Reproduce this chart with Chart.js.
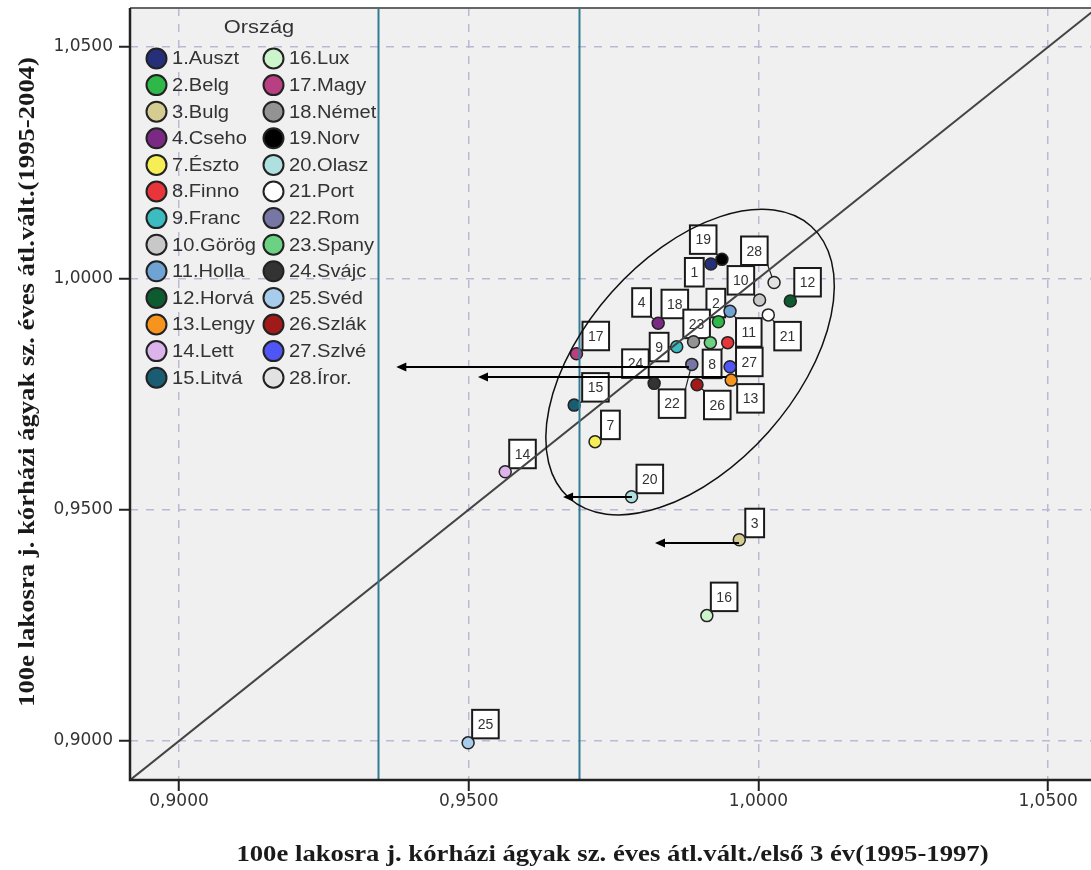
<!DOCTYPE html>
<html>
<head>
<meta charset="utf-8">
<script src="https://cdn.jsdelivr.net/npm/chart.js@4/dist/chart.umd.min.js"></script>
<style>
  html, body { margin: 0; padding: 0; background: #fff; }
  #wrap { width: 1091px; height: 870px; }
</style>
</head>
<body>
<div id="wrap"><canvas id="chart" width="1091" height="870"></canvas></div>
<script>
// ── data (legend order)
const countryIds = [1, 2, 3, 4, 7, 8, 9, 10, 11, 12, 13, 14, 15, 16, 17, 18, 19, 20, 21, 22, 23, 24, 25, 26, 27, 28];
const countryNames = ["Auszt", "Belg", "Bulg", "Cseho", "Észto", "Finno", "Franc", "Görög", "Holla", "Horvá", "Lengy", "Lett", "Litvá",
  "Lux", "Magy", "Német", "Norv", "Olasz", "Port", "Rom", "Spany", "Svájc", "Svéd", "Szlák", "Szlvé", "Íror."];
const xVals = [0.9918, 0.9931, 0.9967, 0.9827, 0.9718, 0.9947, 0.9859, 1.0002, 0.9951, 1.0055, 0.9953, 0.9563, 0.9682,
  0.9911, 0.9686, 0.9888, 0.9937, 0.9781, 1.0017, 0.9885, 0.9917, 0.9820, 0.9499, 0.9894, 0.9951, 1.0027];
const yVals = [1.0031, 0.9906, 0.9435, 0.9903, 0.9647, 0.9861, 0.9852, 0.9953, 0.9929, 0.9951, 0.9780, 0.9582, 0.9726,
  0.9271, 0.9837, 0.9863, 1.0041, 0.9528, 0.9921, 0.9814, 0.9861, 0.9773, 0.8996, 0.9770, 0.9809, 0.9991];
const pointColors = ["#26307a", "#2eb84a", "#d4cc90", "#7a2a82", "#f5ee55", "#e8353a", "#3cbcc0", "#c8c8c8", "#6fa3d4", "#0d5c30",
  "#f7941d", "#dcb3ea", "#1a5c72", "#ccf5cc", "#b83f82", "#939393", "#000000", "#aee0e0", "#ffffff", "#7777a6", "#6bd283",
  "#333333", "#a8ccec", "#a01a1a", "#5055f5", "#e2e2e2"];

// axes
const tickValues = [0.9, 0.95, 1.0, 1.05];
const xRange = [0.89154, 1.0574];
const yRange = [0.89157, 1.05843];
const xTitle = "100e lakosra j. kórházi ágyak sz. éves átl.vált./első 3 év(1995-1997)";
const yTitle = "100e lakosra j. kórházi ágyak sz. éves átl.vált.(1995-2004)";
const legendTitle = "Ország";

// reference lines / annotations
const refLinesX = [0.9343, 0.9690];
const arrowY = [0.9808, 0.97876, 0.95281, 0.94287];
const arrowFromX = [0.9880, 0.9945, 0.97818, 0.99665];
const arrowToX = [0.9375, 0.9516, 0.96628, 0.98215];
const ellipseCenter = [0.9882, 0.9819];

// label box offsets (px, box top-left relative to point)
const labelDx = [-26, -12, 6, -26, 6, -25, -27, -32, 6, 4, 6, 4, 8, 4, 6, -32, -32, 5, 6, -33, -27, -32, 4, 7, 6, -33];
const labelDy = [-6, -33, -31, -35, -31, 7, -14, -34, 7, -33, 4, -32, -32, -33, -32, -52, -34, -32, 7, 25, -33, -34, -33, 6, -19, -46];

const fmt = v => Number(v).toFixed(4).replace(".", ",");
const gridColor = "#b9b9d6";
const titleStretch = 1.16;
const legendStretch = 1.15;

function stretchText(ctx, text, x, y, angle, sx) {
  ctx.save();
  ctx.translate(x, y);
  ctx.rotate(angle);
  ctx.scale(sx, 1);
  ctx.fillText(text, 0, 0);
  ctx.restore();
}

function arrowLine(ctx, x1, y, x2) {
  ctx.beginPath();
  ctx.moveTo(x1, y);
  ctx.lineTo(x2 + 8, y);
  ctx.stroke();
  ctx.beginPath();
  ctx.moveTo(x2, y);
  ctx.lineTo(x2 + 10, y - 4.5);
  ctx.lineTo(x2 + 10, y + 4.5);
  ctx.closePath();
  ctx.fill();
}

const decor = {
  id: "decor",
  beforeDraw(chart) {
    const { ctx, chartArea: a } = chart;
    ctx.save();
    ctx.fillStyle = "#f0f0f0";
    ctx.fillRect(a.left, a.top, a.right - a.left, a.bottom - a.top);
    ctx.restore();
  },
  beforeDatasetsDraw(chart) {
    // label boxes + leader lines
    const { ctx } = chart;
    const xs = chart.scales.x, ys = chart.scales.y;
    ctx.save();
    ctx.font = "14px 'Liberation Sans', Arial, sans-serif";
    countryIds.forEach((id, i) => {
      const px = xs.getPixelForValue(xVals[i]);
      const py = ys.getPixelForValue(yVals[i]);
      const txt = String(id);
      const w = ctx.measureText(txt).width + 11;
      const h = 28.5;
      const bx = px + labelDx[i], by = py + labelDy[i];
      const cx = Math.min(Math.max(px, bx), bx + w);
      const cy = Math.min(Math.max(py, by), by + h);
      ctx.strokeStyle = "#222";
      ctx.lineWidth = 1.2;
      ctx.beginPath();
      ctx.moveTo(px, py);
      ctx.lineTo(cx, cy);
      ctx.stroke();
      ctx.fillStyle = "#fff";
      ctx.fillRect(bx, by, w, h);
      ctx.lineWidth = 2;
      ctx.strokeStyle = "#1a1a1a";
      ctx.strokeRect(bx, by, w, h);
      ctx.fillStyle = "#333";
      ctx.textAlign = "center";
      ctx.textBaseline = "middle";
      ctx.fillText(txt, bx + w / 2, by + h / 2 + 1);
    });
    ctx.restore();
  },
  afterDatasetsDraw(chart) {
    const { ctx, chartArea: a } = chart;
    const xs = chart.scales.x, ys = chart.scales.y;
    ctx.save();
    ctx.beginPath();
    ctx.rect(a.left, a.top, a.right - a.left, a.bottom - a.top);
    ctx.clip();

    // y = x diagonal
    const lo = Math.min(xRange[0], yRange[0]), hi = Math.max(xRange[1], yRange[1]);
    ctx.strokeStyle = "#444";
    ctx.lineWidth = 2;
    ctx.beginPath();
    ctx.moveTo(xs.getPixelForValue(lo), ys.getPixelForValue(lo));
    ctx.lineTo(xs.getPixelForValue(hi), ys.getPixelForValue(hi));
    ctx.stroke();

    // vertical reference lines
    ctx.strokeStyle = "#2f7d91";
    ctx.lineWidth = 2;
    refLinesX.forEach(v => {
      const x = Math.round(xs.getPixelForValue(v)) + 0.5;
      ctx.beginPath();
      ctx.moveTo(x, a.top);
      ctx.lineTo(x, a.bottom);
      ctx.stroke();
    });

    // ellipse
    ctx.strokeStyle = "#111";
    ctx.lineWidth = 1.5;
    ctx.beginPath();
    ctx.ellipse(xs.getPixelForValue(ellipseCenter[0]), ys.getPixelForValue(ellipseCenter[1]), 182, 105, -48.3 * Math.PI / 180, 0, Math.PI * 2);
    ctx.stroke();

    // arrows
    ctx.strokeStyle = "#000";
    ctx.fillStyle = "#000";
    ctx.lineWidth = 2;
    arrowY.forEach((y, i) => {
      arrowLine(ctx, xs.getPixelForValue(arrowFromX[i]), Math.round(ys.getPixelForValue(y)), xs.getPixelForValue(arrowToX[i]));
    });
    ctx.restore();

    // frame
    ctx.save();
    ctx.strokeStyle = "#666";
    ctx.lineWidth = 2;
    ctx.beginPath();
    ctx.moveTo(a.left, a.top);
    ctx.lineTo(a.right, a.top);
    ctx.stroke();
    ctx.strokeStyle = "#222";
    ctx.lineWidth = 2.5;
    ctx.beginPath();
    ctx.moveTo(a.left, a.top);
    ctx.lineTo(a.left, a.bottom);
    ctx.lineTo(a.right, a.bottom);
    ctx.stroke();
    ctx.restore();

    // legend
    ctx.save();
    ctx.fillStyle = "#333";
    ctx.textAlign = "center";
    ctx.textBaseline = "middle";
    ctx.font = "19px 'Liberation Sans', Arial, sans-serif";
    stretchText(ctx, legendTitle, 259, 28, 0, legendStretch);
    ctx.font = "17.5px 'Liberation Sans', Arial, sans-serif";
    ctx.textAlign = "left";
    const perCol = Math.ceil(countryIds.length / 2);
    countryIds.forEach((id, i) => {
      const col = Math.floor(i / perCol), row = i % perCol;
      const cx = col ? 273.5 : 156.5;
      const cy = 58.5 + row * 26.6;
      ctx.beginPath();
      ctx.arc(cx, cy, 10, 0, Math.PI * 2);
      ctx.fillStyle = pointColors[i];
      ctx.fill();
      ctx.lineWidth = 2;
      ctx.strokeStyle = "#222";
      ctx.stroke();
      ctx.fillStyle = "#333";
      stretchText(ctx, id + "." + countryNames[i], cx + 15.5, cy + 1, 0, legendStretch);
    });
    ctx.restore();

    // axis titles
    ctx.save();
    ctx.fillStyle = "#1a1a1a";
    ctx.font = "bold 23px 'Liberation Serif', 'Times New Roman', serif";
    ctx.textAlign = "center";
    ctx.textBaseline = "middle";
    stretchText(ctx, xTitle, (a.left + a.right) / 2 + 2, 855, 0, titleStretch);
    stretchText(ctx, yTitle, 28, 382, -Math.PI / 2, titleStretch);
    ctx.restore();
  }
};

const tickFont = { family: "'DejaVu Sans', sans-serif", size: 17 };

new Chart(document.getElementById("chart"), {
  type: "scatter",
  data: {
    datasets: [{
      data: xVals.map((x, i) => ({ x, y: yVals[i] })),
      backgroundColor: pointColors,
      borderColor: "#222",
      borderWidth: 1.5,
      pointRadius: 6,
      pointHoverRadius: 6
    }]
  },
  options: {
    responsive: false,
    animation: false,
    events: [],
    layout: { autoPadding: false, padding: { top: 8, left: 0, right: 0, bottom: 0 } },
    plugins: { legend: { display: false }, tooltip: { enabled: false } },
    scales: {
      x: {
        type: "linear",
        min: xRange[0], max: xRange[1],
        afterBuildTicks: s => { s.ticks = tickValues.map(v => ({ value: v })); },
        afterFit: s => { s.height = 90; s.paddingLeft = 0; s.paddingRight = 0; },
        grid: { color: gridColor, lineWidth: 1.5, tickLength: 11, tickColor: "#222", tickWidth: 2, tickBorderDash: [] },
        border: { display: false, dash: [8, 8] },
        ticks: { callback: fmt, font: tickFont, color: "#333", padding: 0, maxRotation: 0, autoSkip: false }
      },
      y: {
        type: "linear",
        min: yRange[0], max: yRange[1],
        afterBuildTicks: s => { s.ticks = tickValues.map(v => ({ value: v })); },
        afterFit: s => { s.width = 130; s.paddingTop = 0; s.paddingBottom = 0; },
        grid: { color: gridColor, lineWidth: 1.5, tickLength: 11, tickColor: "#222", tickWidth: 2, tickBorderDash: [] },
        border: { display: false, dash: [8, 8] },
        ticks: { callback: fmt, font: tickFont, color: "#333", padding: 6, autoSkip: false }
      }
    }
  },
  plugins: [decor]
});
</script>
</body>
</html>
